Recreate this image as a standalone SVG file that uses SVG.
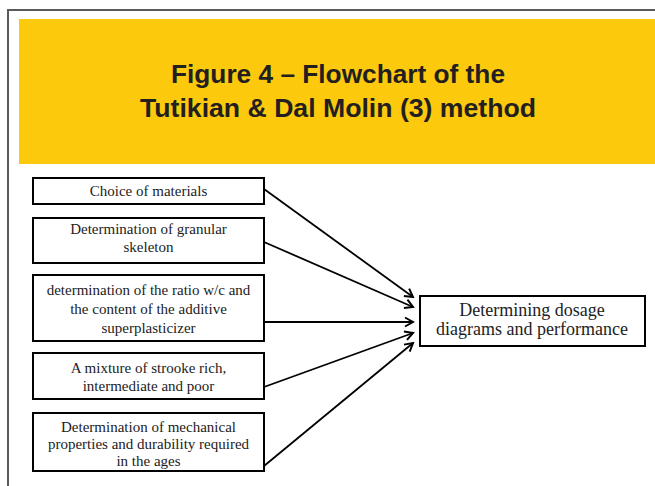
<svg xmlns="http://www.w3.org/2000/svg" width="655" height="486" viewBox="0 0 655 486">
<style>
.box{fill:#fff;stroke:#000;stroke-width:2}
.t{font-family:"Liberation Serif","Times New Roman",serif;font-size:15px;fill:#222;text-anchor:middle}
.tr{font-family:"Liberation Serif","Times New Roman",serif;font-size:18px;fill:#222;text-anchor:middle}
.title{font-family:"Liberation Sans",Arial,sans-serif;font-size:25px;font-weight:bold;fill:#231f20;text-anchor:middle}
.conn{stroke:#000;stroke-width:1.8;fill:none;marker-end:url(#arr)}
</style>
<defs>
<marker id="arr" markerUnits="userSpaceOnUse" markerWidth="12" markerHeight="12" viewBox="0 0 12 12" refX="10" refY="6" orient="auto">
<path d="M2,1.5 L10,6 L2,10.5" fill="none" stroke="#000" stroke-width="2"/>
</marker>
</defs>
<rect width="655" height="486" fill="#fff"/>
<path d="M8,486 L8,10 L655,10" fill="none" stroke="#5a5a5a" stroke-width="2"/>
<g id="header">
<rect x="19" y="19" width="636" height="145" fill="#FDC90C"/>
<text class="title" x="338" y="83" textLength="334" lengthAdjust="spacingAndGlyphs">Figure 4 – Flowchart of the</text>
<text class="title" x="338" y="117" textLength="396" lengthAdjust="spacingAndGlyphs">Tutikian &amp; Dal Molin (3) method</text>
</g>
<g id="n1">
<rect class="box" x="33" y="178" width="231" height="26"/>
<text class="t" x="148.5" y="196">Choice of materials</text>
</g>
<g id="n2">
<rect class="box" x="33" y="218" width="231" height="45"/>
<text class="t" x="148.5" y="234">Determination of granular</text>
<text class="t" x="148.5" y="252">skeleton</text>
</g>
<g id="n3">
<rect class="box" x="33" y="275" width="231" height="66"/>
<text class="t" x="148.5" y="295">determination of the ratio w/c and</text>
<text class="t" x="148.5" y="314">the content of the additive</text>
<text class="t" x="148.5" y="333">superplasticizer</text>
</g>
<g id="n4">
<rect class="box" x="33" y="353" width="231" height="46"/>
<text class="t" x="148.5" y="373">A mixture of strooke rich,</text>
<text class="t" x="148.5" y="391">intermediate and poor</text>
</g>
<g id="n5">
<rect class="box" x="33" y="413" width="231" height="58"/>
<text class="t" x="148.5" y="432">Determination of mechanical</text>
<text class="t" x="148.5" y="449">properties and durability required</text>
<text class="t" x="148.5" y="466">in the ages</text>
</g>
<g id="n6">
<rect class="box" x="420" y="296" width="225" height="50"/>
<text class="tr" x="532" y="316">Determining dosage</text>
<text class="tr" x="532" y="335">diagrams and performance</text>
</g>
<g id="connectors">
<line class="conn" x1="264" y1="189" x2="413" y2="297"/>
<line class="conn" x1="264" y1="242" x2="413" y2="307"/>
<line class="conn" x1="264" y1="322" x2="413" y2="322"/>
<line class="conn" x1="264" y1="387" x2="413" y2="333"/>
<line class="conn" x1="264" y1="466" x2="413" y2="343"/>
</g>
</svg>
